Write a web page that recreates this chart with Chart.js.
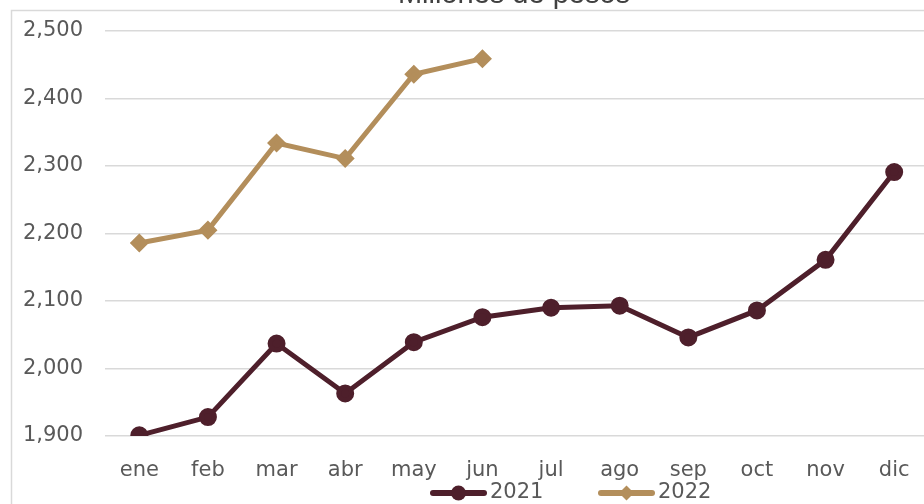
<!DOCTYPE html>
<html><head><meta charset="utf-8">
<script src="https://cdn.jsdelivr.net/npm/chart.js@4"></script>
<style>html,body{margin:0;padding:0;overflow:hidden;background:#fff;width:924px;height:504px}
#wrap{position:absolute;left:0;top:0;width:940px;height:504px}</style>
</head><body>
<div id="wrap"><canvas id="c" width="940" height="504"></canvas></div>
<script>
const titleText = "Millones de pesos";
const months = ["ene","feb","mar","abr","may","jun","jul","ago","sep","oct","nov","dic"];
const values2021 = [1901, 1928, 2037, 1963, 2039, 2076, 2090, 2093, 2046, 2086, 2161, 2291];
const values2022 = [2186, 2205, 2334, 2311, 2436, 2459];
const yTicks = [1900, 2000, 2100, 2200, 2300, 2400, 2500];
const seriesNames = ["2021", "2022"];

const c2021 = "#4e1f2b";
const c2022 = "#b38e5b";
const FONT = "'DejaVu Sans', sans-serif";
const grey = "#595959";

// legend item layout: [marker start x, text start x]
const legendSlots = [[430, 490], [598, 658]];

const framePlugin = {
  id: 'frame',
  beforeDraw(chart){
    const ctx = chart.ctx;
    ctx.save();
    ctx.strokeStyle = '#d9d9d9'; ctx.lineWidth = 1.5;
    ctx.strokeRect(11.5, 10.5, 1200, 1200);
    ctx.restore();
  },
  afterDraw(chart){
    const ctx = chart.ctx;
    ctx.save();
    ctx.fillStyle = '#404040';
    ctx.font = "29px 'Liberation Sans', Arial, sans-serif";
    ctx.textAlign = 'center'; ctx.textBaseline = 'alphabetic';
    ctx.fillText(titleText, 514, 3);
    // legend
    const y = 493;
    chart.data.datasets.forEach((d, i) => {
      const [mx, tx] = legendSlots[i];
      ctx.strokeStyle = d.borderColor; ctx.fillStyle = d.borderColor;
      ctx.lineWidth = 6; ctx.lineCap = 'round';
      ctx.beginPath(); ctx.moveTo(mx + 3, y); ctx.lineTo(mx + 54, y); ctx.stroke();
      const cx = mx + 28.5;
      ctx.beginPath();
      if (d.pointStyle === 'circle') ctx.arc(cx, y, 7.5, 0, Math.PI * 2);
      else { ctx.moveTo(cx, y - 7.5); ctx.lineTo(cx + 7.5, y); ctx.lineTo(cx, y + 7.5); ctx.lineTo(cx - 7.5, y); ctx.closePath(); }
      ctx.fill();
      ctx.fillStyle = grey;
      ctx.font = "21px " + FONT;
      ctx.textAlign = 'left'; ctx.textBaseline = 'middle';
      ctx.fillText(d.label, tx, y);
    });
    ctx.restore();
  }
};

new Chart(document.getElementById('c'), {
  type: 'line',
  data: {
    labels: months,
    datasets: [
      { label: seriesNames[0], data: values2021, borderColor: c2021, backgroundColor: c2021,
        borderWidth: 5, pointStyle: 'circle', pointRadius: 6.5, pointHoverRadius: 6.5, tension: 0 },
      { label: seriesNames[1], data: values2022, borderColor: c2022, backgroundColor: c2022,
        borderWidth: 5, pointStyle: 'rectRot', pointRadius: 6, pointHoverRadius: 6, tension: 0 }
    ]
  },
  options: {
    responsive: false, animation: false,
    layout: { padding: { top: 31, right: 10, left: 0, bottom: 0 } },
    plugins: {
      title: { display: false },
      tooltip: { enabled: false },
      legend: { display: false }
    },
    scales: {
      x: {
        offset: true,
        afterFit(s){ s.height = 68; s.paddingLeft = 0; s.paddingRight = 0; },
        grid: { display: false, drawTicks: false },
        border: { display: false },
        ticks: { color: grey, font: { family: FONT, size: 21 }, padding: 22, maxRotation: 0, autoSkip: false }
      },
      y: {
        min: 1900, max: 2500,
        afterFit(s){ s.width = 105; s.paddingTop = 0; s.paddingBottom = 0; },
        afterBuildTicks(s){ s.ticks = yTicks.map(v=>({value:v})); },
        grid: { color: '#d9d9d9', lineWidth: 1.5, drawTicks: false },
        border: { display: false },
        ticks: { color: grey, font: { family: FONT, size: 21 }, padding: 22,
          callback: v => v.toLocaleString('en-US') }
      }
    }
  },
  plugins: [framePlugin]
});
</script>
</body></html>
